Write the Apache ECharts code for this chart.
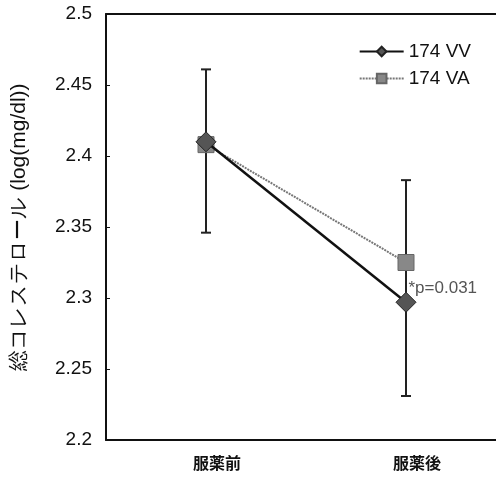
<!DOCTYPE html>
<html><head><meta charset="utf-8">
<script src="https://cdn.jsdelivr.net/npm/echarts@6/dist/echarts.min.js"></script>
<style>html,body{margin:0;padding:0;background:#fff}#c{width:496px;height:479px}</style>
</head><body><div id="c"></div>
<script>
var categories = ['服薬前', '服薬後'];
var seriesNames = ['174 VV', '174 VA'];
var vvValues = [2.41, 2.297];
var vaValues = [2.408, 2.325];
var errLow = [2.346, 2.231];
var errHigh = [2.461, 2.383];
var yMin = 2.2, yMax = 2.5, yStep = 0.05;
var annotation = '*p=0.031';

var chart = echarts.init(document.getElementById('c'));
var errData = categories.map(function (c, i) { return [i, errLow[i], errHigh[i]]; });

chart.setOption({
  animation: false,
  grid: { left: 106, top: 14, bottom: 39, width: 400, outerBoundsMode: 'none', containLabel: false },
  legend: {
    right: 20, top: 37, orient: 'vertical', itemGap: 8, itemWidth: 44, itemHeight: 12,
    textStyle: { fontFamily: 'Liberation Sans', fontSize: 19, color: '#111' },
    data: seriesNames
  },
  xAxis: [{
    type: 'category', data: categories, boundaryGap: true, position: 'bottom',
    axisLine: { show: true, lineStyle: { color: '#111', width: 2 } }, axisTick: { show: false },
    axisLabel: { fontFamily: 'Noto Sans CJK JP', fontSize: 16, fontWeight: 'bold', color: '#111', margin: 15, padding: [0, 0, 0, 22] }
  }, {
    type: 'category', data: categories, position: 'top',
    axisLine: { show: true, lineStyle: { color: '#111', width: 2 } }, axisTick: { show: false },
    axisLabel: { show: false }
  }],
  yAxis: {
    type: 'value', min: yMin, max: yMax, interval: yStep,
    name: '総コレステロール (log(mg/dl))', nameLocation: 'middle', nameGap: 76, nameRotate: 90,
    nameTextStyle: { fontFamily: 'Liberation Sans', fontSize: 21, color: '#111' },
    axisLine: { show: true, lineStyle: { color: '#111', width: 2 } },
    axisTick: { show: true, inside: true, length: 4, lineStyle: { color: '#111' } },
    splitLine: { show: false },
    axisLabel: { fontFamily: 'Liberation Sans', fontSize: 19, color: '#111', margin: 14 }
  },
  series: [
    {
      type: 'custom', name: 'err', silent: true, z: 1,
      renderItem: function (params, api) {
        var x = api.coord([api.value(0), api.value(1)])[0];
        var lo = api.coord([api.value(0), api.value(1)])[1];
        var hi = api.coord([api.value(0), api.value(2)])[1];
        var st = { stroke: '#222', lineWidth: 2 };
        return { type: 'group', children: [
          { type: 'line', shape: { x1: x, y1: lo, x2: x, y2: hi }, style: st },
          { type: 'line', shape: { x1: x - 5, y1: lo, x2: x + 5, y2: lo }, style: st },
          { type: 'line', shape: { x1: x - 5, y1: hi, x2: x + 5, y2: hi }, style: st }
        ] };
      },
      data: errData
    },
    {
      name: seriesNames[0], type: 'line', data: vvValues, z: 3,
      symbol: 'diamond', symbolSize: 20,
      lineStyle: { color: '#111', width: 2.5 },
      itemStyle: { color: '#555', borderColor: '#222', borderWidth: 1 }
    },
    {
      name: seriesNames[1], type: 'line', data: vaValues, z: 2,
      symbol: 'rect', symbolSize: 16,
      lineStyle: { color: '#777', width: 2, type: [2, 1] },
      itemStyle: { color: '#888', borderColor: '#666', borderWidth: 1 },
      label: {
        show: true, position: 'right', distance: 0, offset: [-6, 26],
        fontFamily: 'Liberation Sans', fontSize: 17, color: '#555',
        formatter: function (p) { return p.dataIndex === 1 ? annotation : ''; }
      }
    }
  ]
});
</script></body></html>
